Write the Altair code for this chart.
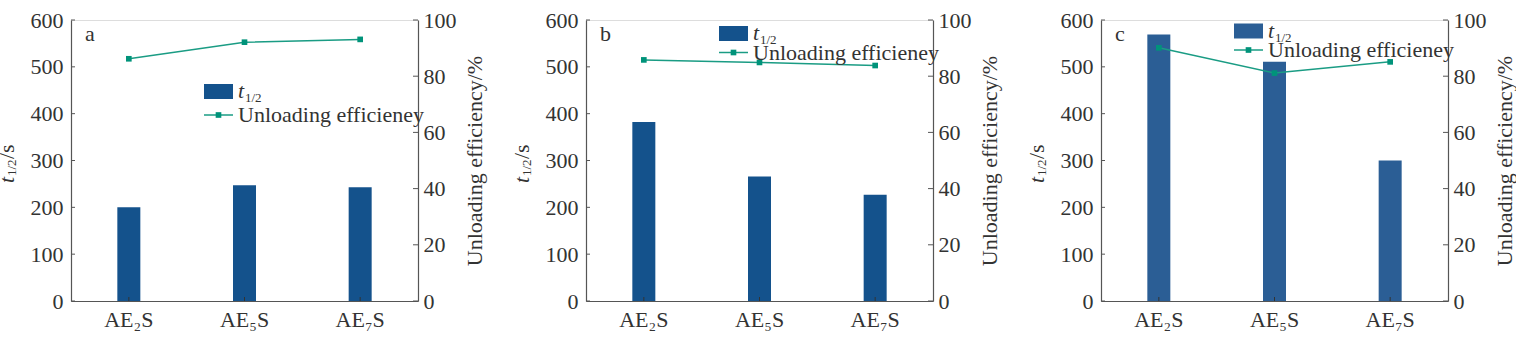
import altair as alt
import pandas as pd

samples = ["AE₂S", "AE₅S", "AE₇S"]
t_half = {
    "a": [200, 247, 243],
    "b": [382, 266, 227],
    "c": [569, 511, 300],
}
efficiency = {
    "a": [86.2, 92.1, 93.1],
    "b": [85.8, 84.9, 83.8],
    "c": [90.1, 81.1, 85.1],
}
bar_colors = {"a": "#14528c", "b": "#14528c", "c": "#2b5e95"}
legend_swatch_top = {"a": 64, "b": 6, "c": 3.5}
legend_line_y = {"a": 95, "b": 32.5, "c": 30}
left_ticks = [0, 100, 200, 300, 400, 500, 600]
right_ticks = [0, 20, 40, 60, 80, 100]

W, H = 347, 281
FONT = "Liberation Serif"
TXT = "#333333"
FRAME = "#555555"
LINE_C = "#1a9c84"
MARK_C = "#00937a"


def panel(key):
    df = pd.DataFrame({"sample": samples, "t": t_half[key], "eff": efficiency[key]})
    xenc = alt.X(
        "sample:N", sort=samples,
        scale=alt.Scale(paddingInner=0, paddingOuter=0),
        axis=alt.Axis(title=None, labelAngle=0, labelFont=FONT, labelFontSize=22,
                      labelColor=TXT, tickSize=0, labelPadding=8,
                      domainColor=FRAME, domainWidth=1.2),
    )
    yl_scale = alt.Scale(domain=[0, 600], nice=False, zero=True)
    yr_scale = alt.Scale(domain=[0, 100], nice=False, zero=True)

    bars = alt.Chart(df).mark_bar(size=23, color=bar_colors[key]).encode(
        x=xenc,
        y=alt.Y("t:Q", scale=yl_scale,
                axis=alt.Axis(title=None, values=left_ticks, labelFont=FONT, labelFontSize=22,
                              labelColor=TXT, tickSize=0, labelPadding=8, grid=False,
                              domainColor=FRAME, domainWidth=1.2)),
    )
    lt_df = pd.DataFrame({"t": left_ticks})
    lticks = alt.Chart(lt_df).mark_rule(color=FRAME, strokeWidth=1).encode(
        y=alt.Y("t:Q", scale=yl_scale), x=alt.value(0), x2=alt.value(4)
    )
    left = alt.layer(bars, lticks)

    line = alt.Chart(df).mark_line(color=LINE_C, strokeWidth=1.5).encode(
        x=alt.X("sample:N", sort=samples),
        y=alt.Y("eff:Q", scale=yr_scale,
                axis=alt.Axis(title="Unloading efficiency/%", orient="right", values=right_ticks,
                              labelFont=FONT, labelFontSize=22, labelColor=TXT, tickSize=0,
                              labelPadding=5, grid=False, titleFont=FONT, titleFontSize=22,
                              titleFontWeight="normal", titleColor=TXT, titleAngle=270,
                              titlePadding=30, domainColor=FRAME, domainWidth=1.2)),
    )
    pts = alt.Chart(df).mark_point(shape="square", filled=True, size=32, color=MARK_C, opacity=1).encode(
        x=alt.X("sample:N", sort=samples), y=alt.Y("eff:Q", scale=yr_scale)
    )
    rt_df = pd.DataFrame({"eff": right_ticks})
    rticks = alt.Chart(rt_df).mark_rule(color=FRAME, strokeWidth=1).encode(
        y=alt.Y("eff:Q", scale=yr_scale), x=alt.value(W - 5), x2=alt.value(W)
    )
    right = alt.layer(line, pts, rticks)

    xticks = alt.Chart(df).mark_rule(color="#333333", strokeWidth=1).encode(
        x=alt.X("sample:N", sort=samples), y=alt.value(H), y2=alt.value(H - 4)
    )

    st = legend_swatch_top[key]
    ly = legend_line_y[key]
    one = pd.DataFrame({"k": [0]})
    sw = alt.Chart(one).mark_rect(color=bar_colors[key]).encode(
        x=alt.value(133), x2=alt.value(162), y=alt.value(st), y2=alt.value(st + 15)
    )
    lg_line = alt.Chart(one).mark_rule(color=LINE_C, strokeWidth=1.5).encode(
        x=alt.value(133), x2=alt.value(162), y=alt.value(ly)
    )
    lg_pt = alt.Chart(one).mark_point(shape="square", filled=True, size=32, color=MARK_C, opacity=1).encode(
        x=alt.value(147.5), y=alt.value(ly)
    )
    lg_t = alt.Chart(one).mark_text(font=FONT, fontSize=22, fontStyle="italic", color=TXT,
                                    align="left", baseline="alphabetic").encode(
        x=alt.value(167), y=alt.value(st + 14), text=alt.value("t")
    )
    lg_sub = alt.Chart(one).mark_text(font=FONT, fontSize=13, color=TXT,
                                      align="left", baseline="alphabetic").encode(
        x=alt.value(174), y=alt.value(st + 18), text=alt.value("1/2")
    )
    lg_eff = alt.Chart(one).mark_text(font=FONT, fontSize=22, color=TXT,
                                      align="left", baseline="middle").encode(
        x=alt.value(167), y=alt.value(ly), text=alt.value("Unloading efficieney")
    )
    letter = alt.Chart(one).mark_text(font=FONT, fontSize=22, color=TXT,
                                      align="left", baseline="middle").encode(
        x=alt.value(14), y=alt.value(14), text=alt.value(key)
    )
    # left axis title t_{1/2}/s, rotated
    yt1 = alt.Chart(one).mark_text(font=FONT, fontSize=22, fontStyle="italic", color=TXT,
                                   align="left", baseline="alphabetic", angle=270).encode(
        x=alt.value(-57), y=alt.value(163), text=alt.value("t")
    )
    yt2 = alt.Chart(one).mark_text(font=FONT, fontSize=13, color=TXT,
                                   align="left", baseline="alphabetic", angle=270).encode(
        x=alt.value(-55), y=alt.value(156), text=alt.value("1/2")
    )
    yt3 = alt.Chart(one).mark_text(font=FONT, fontSize=22, color=TXT,
                                   align="left", baseline="alphabetic", angle=270).encode(
        x=alt.value(-57), y=alt.value(139), text=alt.value("/s")
    )

    return alt.layer(
        left, right, xticks, sw, lg_line, lg_pt, lg_t, lg_sub, lg_eff, letter, yt1, yt2, yt3
    ).resolve_scale(y="independent").properties(width=W, height=H)


chart = alt.hconcat(panel("a"), panel("b"), panel("c"), spacing=168, bounds="flush").properties(
    padding={"left": -5, "top": 8, "right": 0, "bottom": 0}
).configure_view(stroke=FRAME, strokeWidth=1.2).configure(background="white")

chart.save("out.html", embed_options={"renderer": "svg", "actions": False})
